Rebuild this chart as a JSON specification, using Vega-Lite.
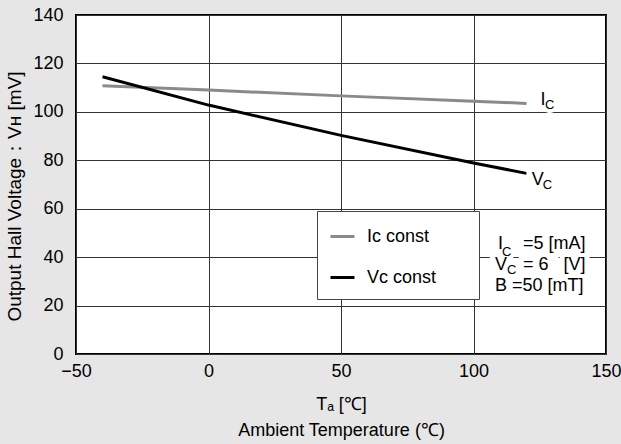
{
  "$schema": "https://vega.github.io/schema/vega-lite/v6.json",
  "width": 530,
  "height": 339,
  "autosize": {"type": "none"},
  "padding": {"left": 76, "top": 15, "right": 15, "bottom": 90},
  "background": "#e6e6e6",
  "config": {
    "font": "Liberation Sans",
    "view": {"fill": "white", "stroke": "black", "strokeWidth": 2},
    "axis": {
      "grid": true, "gridColor": "#333333", "gridWidth": 1, "gridOpacity": 1,
      "ticks": false, "domain": false,
      "labelFont": "Liberation Sans", "labelFontSize": 18, "labelColor": "black",
      "labelFlush": false, "labelOverlap": false,
      "titleFont": "Liberation Sans", "titleFontSize": 18, "titleFontWeight": "normal", "titleColor": "black"
    }
  },
  "datasets": {
    "lines": [
      {"series": "Iᴄ const", "t": -40, "v": 110.8},
      {"series": "Iᴄ const", "t": 0, "v": 109.0},
      {"series": "Iᴄ const", "t": 50, "v": 106.6},
      {"series": "Iᴄ const", "t": 100, "v": 104.4},
      {"series": "Iᴄ const", "t": 120, "v": 103.5},
      {"series": "Vᴄ const", "t": -40, "v": 114.5},
      {"series": "Vᴄ const", "t": 0, "v": 102.8},
      {"series": "Vᴄ const", "t": 50, "v": 90.3},
      {"series": "Vᴄ const", "t": 100, "v": 78.9},
      {"series": "Vᴄ const", "t": 120, "v": 74.6}
    ],
    "txt": [
      {"x": 125.3, "y": 104.9, "t": "I", "k": "big"},
      {"x": 127.0, "y": 103.0, "t": "C", "k": "sub"},
      {"x": 122.0, "y": 71.7, "t": "V", "k": "big"},
      {"x": 126.1, "y": 69.8, "t": "C", "k": "sub"},
      {"x": 109.2, "y": 45.3, "t": "I", "k": "big"},
      {"x": 110.75, "y": 42.3, "t": "C", "k": "sub"},
      {"x": 118.7, "y": 45.3, "t": "=5 [mA]", "k": "big"},
      {"x": 108.1, "y": 36.8, "t": "V", "k": "big"},
      {"x": 112.6, "y": 34.7, "t": "C", "k": "sub"},
      {"x": 118.7, "y": 36.8, "t": "= 6\u00a0\u00a0\u00a0[V]", "k": "big"},
      {"x": 108.1, "y": 28.1, "t": "B =50 [mT]", "k": "big"}
    ]
  },
  "encoding": {
    "x": {
      "field": "t", "type": "quantitative",
      "scale": {"domain": [-50, 150], "nice": false, "zero": false},
      "axis": {
        "values": [-50, 0, 50, 100, 150],
        "labelPadding": 8,
        "title": ["Tₐ [℃]", "Ambient Temperature (℃)"],
        "titlePadding": 15,
        "titleLineHeight": 26
      }
    },
    "y": {
      "field": "v", "type": "quantitative",
      "scale": {"domain": [0, 140], "nice": false},
      "axis": {
        "values": [0, 20, 40, 60, 80, 100, 120, 140],
        "labelPadding": 13,
        "title": "Output Hall Voltage：Vʜ [mV]",
        "titleFontSize": 19,
        "titlePadding": 8,
        "titleY": 181
      }
    }
  },
  "layer": [
    {
      "data": {"name": "lines"},
      "mark": {"type": "line", "strokeWidth": 3},
      "encoding": {
        "color": {
          "field": "series", "type": "nominal",
          "scale": {"domain": ["Iᴄ const", "Vᴄ const"], "range": ["#8a8a8a", "#000000"]},
          "legend": {
            "title": null,
            "orient": "none",
            "legendX": 241,
            "legendY": 196,
            "direction": "vertical",
            "symbolType": "stroke",
            "symbolSize": 576,
            "symbolStrokeWidth": 3,
            "labelFont": "Liberation Sans",
            "labelFontSize": 18,
            "labelColor": "black",
            "labelOffset": 11,
            "labelLimit": 400,
            "labelExpr": "datum.label + '\u00a0\u00a0\u00a0\u00a0\u00a0\u00a0\u200b'",
            "padding": 12,
            "rowPadding": 18,
            "fillColor": "white",
            "strokeColor": "#444444"
          }
        }
      }
    },
    {
      "data": {"name": "txt"},
      "transform": [{"filter": "datum.k === 'big'"}],
      "mark": {"type": "text", "align": "left", "baseline": "middle", "fontSize": 18, "font": "Liberation Sans", "fill": "white", "stroke": "white", "strokeWidth": 10},
      "encoding": {
        "x": {"field": "x", "type": "quantitative"},
        "y": {"field": "y", "type": "quantitative"},
        "text": {"field": "t"}
      }
    },
    {
      "data": {"name": "txt"},
      "transform": [{"filter": "datum.k === 'sub'"}],
      "mark": {"type": "text", "align": "left", "baseline": "middle", "fontSize": 13, "font": "Liberation Sans", "fill": "white", "stroke": "white", "strokeWidth": 8},
      "encoding": {
        "x": {"field": "x", "type": "quantitative"},
        "y": {"field": "y", "type": "quantitative"},
        "text": {"field": "t"}
      }
    },
    {
      "data": {"name": "txt"},
      "transform": [{"filter": "datum.k === 'big'"}],
      "mark": {"type": "text", "align": "left", "baseline": "middle", "fontSize": 18, "font": "Liberation Sans", "color": "black"},
      "encoding": {
        "x": {"field": "x", "type": "quantitative"},
        "y": {"field": "y", "type": "quantitative"},
        "text": {"field": "t"}
      }
    },
    {
      "data": {"name": "txt"},
      "transform": [{"filter": "datum.k === 'sub'"}],
      "mark": {"type": "text", "align": "left", "baseline": "middle", "fontSize": 13, "font": "Liberation Sans", "color": "black"},
      "encoding": {
        "x": {"field": "x", "type": "quantitative"},
        "y": {"field": "y", "type": "quantitative"},
        "text": {"field": "t"}
      }
    }
  ]
}
